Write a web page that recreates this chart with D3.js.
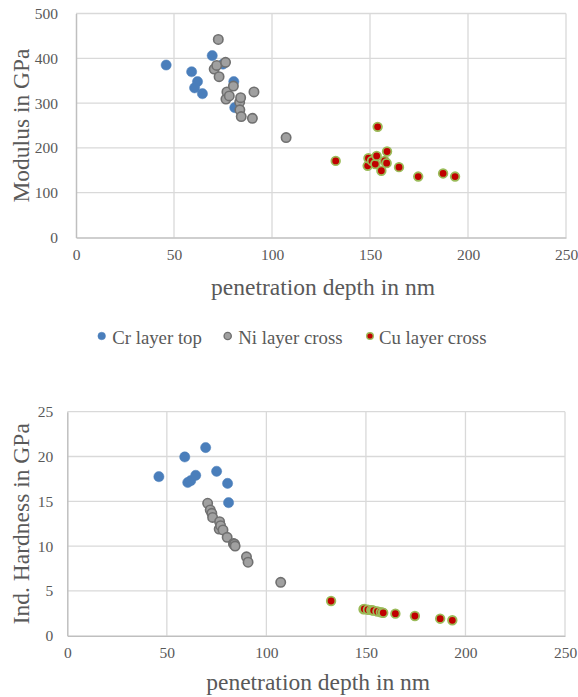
<!DOCTYPE html>
<html><head><meta charset="utf-8">
<script src="https://cdn.jsdelivr.net/npm/d3@7"></script>
<style>body{margin:0;background:#fff}svg{display:block}</style>
</head><body><svg id="c" width="578" height="697"></svg>
<script>
// Data
const crDepth = [46, 59, 60.5, 62, 64.5, 69.5, 75, 80.5, 81];
const crModulus = [385, 370, 334, 348, 321, 406, 387, 348, 290];
const crHardness = [17.75, 19.95, 17.1, 17.3, 17.9, 21.0, 18.35, 17.0, 14.85];

const niDepth = [70.5, 71.8, 72.6, 73, 76.3, 76.5, 77, 78.2, 80.3, 83.5, 83.6, 84, 84.3, 90, 90.8, 107.2];
const niModulus = [376, 384, 442, 359, 391, 309, 325, 316, 338, 302, 285, 312, 270, 266, 325, 223];
const niHardness = [14.78, 14.03, 13.66, 13.2, 11.9, 12.72, 12.28, 11.8, 10.98, 10.3, 10.2, 10.23, 10.0, 8.8, 8.2, 5.96];

const cuDepth = [132.5, 148.8, 149.2, 151, 152.7, 153.4, 153.9, 155.8, 157.5, 158.5, 158.7, 164.8, 174.6, 187.3, 193.4];
const cuModulus = [171, 160, 177, 171, 164, 182, 247, 149, 171, 166, 192, 157, 136, 143, 136];
const cuHardness = [3.87, 2.95, 2.98, 2.9, 2.85, 2.83, 2.8, 2.7, 2.62, 2.58, 2.55, 2.46, 2.2, 1.9, 1.72];

const seriesNames = ["Cr layer top", "Ni layer cross", "Cu layer cross"];
const xTicks = [0, 50, 100, 150, 200, 250];
const modTicks = [0, 100, 200, 300, 400, 500];
const hardTicks = [0, 5, 10, 15, 20, 25];

const FONT = "'Liberation Serif', 'Times New Roman', Tinos, 'DejaVu Serif', 'Noto Serif', serif";
const styles = [
  {fill: "#4a7ebb", stroke: "#4a7ebb", sw: 0.5, r: 5.1},
  {fill: "#a0a0a0", stroke: "#707070", sw: 1.6, r: 4.7},
  {fill: "#c00000", stroke: "#9bbb59", sw: 1.8, r: 4.3}
];

const svg = d3.select("#c");

function chart(cfg) {
  const x = d3.scaleLinear().domain([0, 250]).range([cfg.x0, cfg.x1]);
  const y = d3.scaleLinear().domain([0, cfg.ymax]).range([cfg.y0, cfg.y1]);
  const g = svg.append("g");
  g.selectAll(".vg").data(xTicks.slice(1)).join("line")
    .attr("x1", d => x(d)).attr("x2", d => x(d)).attr("y1", y(0)).attr("y2", y(cfg.ymax))
    .attr("stroke", "#d9d9d9").attr("stroke-width", 1.3);
  g.selectAll(".hg").data(cfg.yTicks.slice(1)).join("line")
    .attr("x1", x(0)).attr("x2", x(250)).attr("y1", d => y(d)).attr("y2", d => y(d))
    .attr("stroke", "#d9d9d9").attr("stroke-width", 1.3);
  const xa = g.append("g").attr("transform", `translate(0,${y(0)})`)
    .call(d3.axisBottom(x).tickValues(xTicks).tickSize(0).tickPadding(11));
  xa.attr("font-family", FONT).attr("font-size", 15.5);
  xa.select(".domain").attr("stroke", "#bfbfbf").attr("stroke-width", 1.5);
  xa.selectAll("text").attr("fill", "#595959");
  const ya = g.append("g").attr("transform", `translate(${x(0)},0)`)
    .call(d3.axisLeft(y).tickValues(cfg.yTicks).tickSize(0).tickPadding(cfg.ypad));
  ya.attr("font-family", FONT).attr("font-size", 15.5);
  ya.select(".domain").attr("stroke", "#bfbfbf").attr("stroke-width", 1.5);
  ya.selectAll("text").attr("fill", "#595959");
  g.append("text").attr("x", (cfg.x0 + cfg.x1) / 2 + 2).attr("y", cfg.xtY)
    .attr("text-anchor", "middle").attr("font-family", FONT).attr("font-size", 23.5)
    .attr("fill", "#595959").text("penetration depth in nm");
  g.append("text").attr("transform", `translate(${cfg.ytX},${(cfg.y0 + cfg.y1) / 2}) rotate(-90)`)
    .attr("text-anchor", "middle").attr("font-family", FONT).attr("font-size", 23.5)
    .attr("fill", "#595959").text(cfg.ytitle);
  const sets = [[crDepth, cfg.ys[0]], [niDepth, cfg.ys[1]], [cuDepth, cfg.ys[2]]];
  sets.forEach(([xs, ys], i) => {
    const st = styles[i];
    g.append("g").selectAll("circle").data(xs.map((d, j) => [d, ys[j]])).join("circle")
      .attr("cx", d => x(d[0])).attr("cy", d => y(d[1])).attr("r", st.r)
      .attr("fill", st.fill).attr("stroke", st.stroke).attr("stroke-width", st.sw);
  });
}

chart({x0: 76, x1: 566, y0: 237.5, y1: 13.5, ymax: 500, yTicks: modTicks, ypad: 18,
  xtY: 295, ytX: 29, ytitle: "Modulus in GPa", ys: [crModulus, niModulus, cuModulus]});
chart({x0: 67.3, x1: 565, y0: 635.7, y1: 411.7, ymax: 25, yTicks: hardTicks, ypad: 14,
  xtY: 690, ytX: 29, ytitle: "Ind. Hardness in GPa", ys: [crHardness, niHardness, cuHardness]});

const legX = [101.7, 227.7, 370];
const legR = [3.8, 3.6, 3.3];
const lg = svg.append("g");
seriesNames.forEach((n, i) => {
  const st = styles[i];
  lg.append("circle").attr("cx", legX[i]).attr("cy", 336).attr("r", legR[i])
    .attr("fill", st.fill).attr("stroke", st.stroke).attr("stroke-width", i === 0 ? 0.5 : 1.4);
  lg.append("text").attr("x", legX[i] + (i === 2 ? 9 : 10.5)).attr("y", 344).attr("font-family", FONT)
    .attr("font-size", 18.8).attr("fill", "#595959").text(n);
});
</script></body></html>
